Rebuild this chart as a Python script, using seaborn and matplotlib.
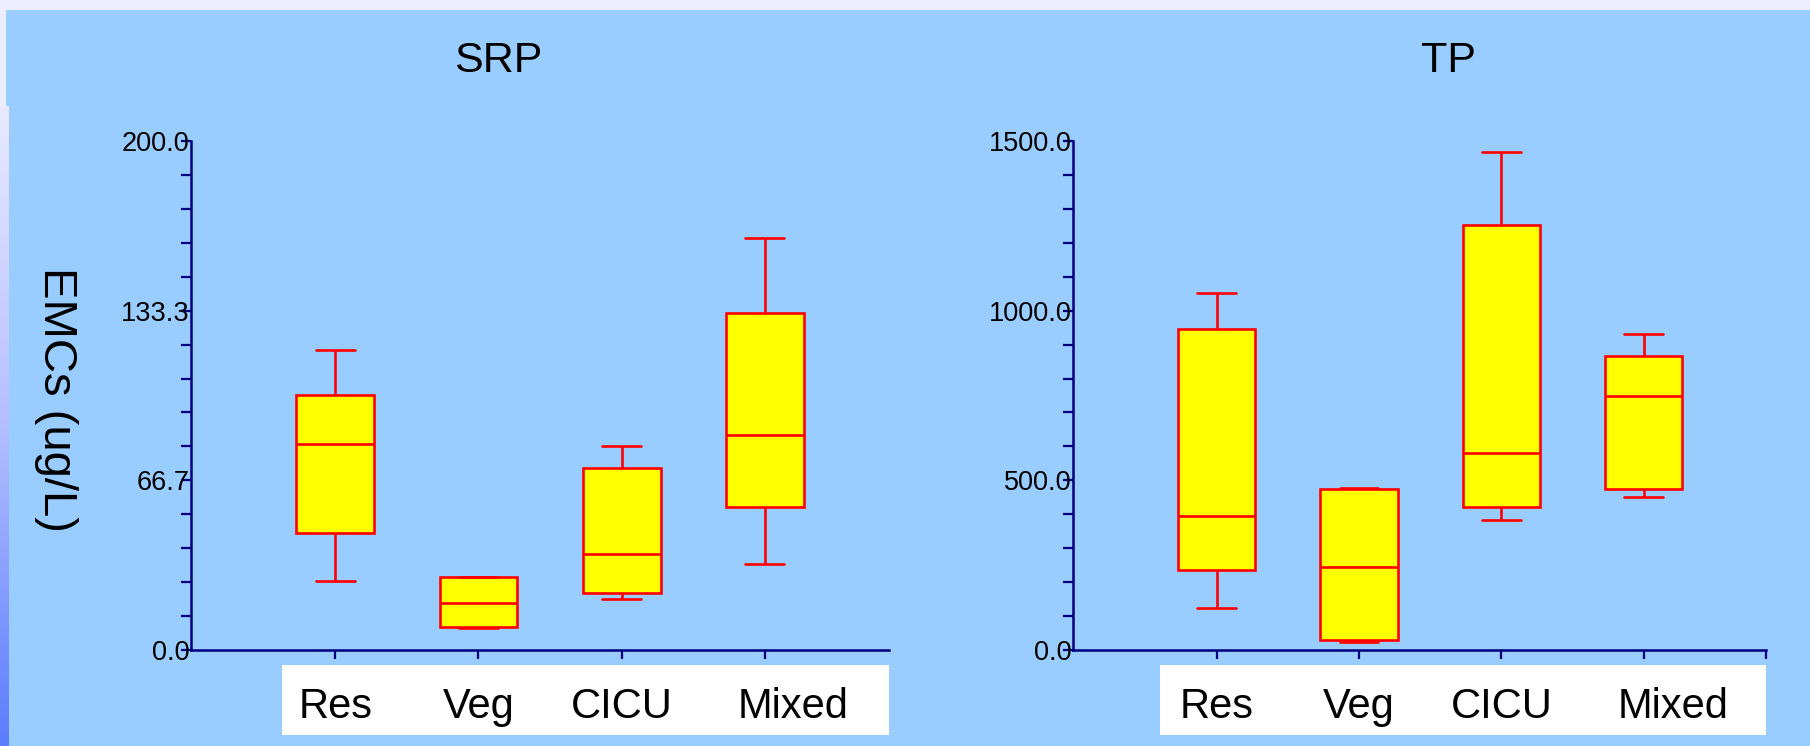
import numpy as np
import pandas as pd
import matplotlib
matplotlib.use("Agg")
import matplotlib.pyplot as plt
from matplotlib.patches import Rectangle
from matplotlib.colors import LinearSegmentedColormap
from matplotlib.transforms import ScaledTranslation
import seaborn as sns

# ---------------- data ----------------
categories = ["Res", "Veg", "CICU", "Mixed"]
# five-number summaries: [whisker low, Q1, median, Q3, whisker high]
srp_res = [27.0, 46.1, 80.9, 100.2, 117.8]
srp_veg = [8.8, 9.2, 18.3, 28.6, 28.7]
srp_cicu = [20.0, 22.3, 37.7, 71.5, 80.0]
srp_mixed = [33.8, 56.3, 84.5, 132.3, 161.8]

tp_res = [124, 236, 395, 947, 1051]
tp_veg = [25, 28, 245, 474, 476]
tp_cicu = [383, 421, 580, 1253, 1468]
tp_mixed = [450, 474, 748, 866, 930]

srp_tick_labels = ["0.0", "66.7", "133.3", "200.0"]
tp_tick_labels = ["0.0", "500.0", "1000.0", "1500.0"]
srp_max = 200.0
tp_max = 1500.0
panel_titles = ["SRP", "TP"]
y_label = "EMCs (ug/L)"


def long_frame(groups):
    rows = []
    for cat, vals in zip(categories, groups):
        for v in vals:
            rows.append({"site": cat, "value": v})
    return pd.DataFrame(rows)


srp_df = long_frame([srp_res, srp_veg, srp_cicu, srp_mixed])
tp_df = long_frame([tp_res, tp_veg, tp_cicu, tp_mixed])

# ---------------- style ----------------
sns.set_style("white")
plt.rcParams["font.family"] = ["Liberation Sans", "DejaVu Sans"]

W, H = 1810, 746
fig = plt.figure(figsize=(W / 100, H / 100), dpi=100, facecolor="#ECEEFF")

# background decoration (pixel-space axes)
bg = fig.add_axes([0, 0, 1, 1])
bg.set_xlim(0, W)
bg.set_ylim(H, 0)
bg.axis("off")
grad_cmap = LinearSegmentedColormap.from_list("strip", ["#E8EAFF", "#B4BEFF", "#5A7CFF"])
grad = np.linspace(0, 1, 256).reshape(-1, 1)
bg.imshow(grad, extent=(0, 9, H, 106), aspect="auto", cmap=grad_cmap, zorder=1)
bg.add_patch(Rectangle((6, 10), W - 6, 96, color="#99CCFF", lw=0, zorder=2))
bg.add_patch(Rectangle((9, 106), W - 9, H - 106, color="#99CCFF", lw=0, zorder=2))
bg.add_patch(Rectangle((282, 665), 889 - 282, 70, color="white", lw=0, zorder=3))
bg.add_patch(Rectangle((1160, 665), 1766 - 1160, 70, color="white", lw=0, zorder=3))

navy = "#000080"


def style_axes(ax, df, ymax, labels, xright, end_tick):
    sns.boxplot(data=df, x="site", y="value", order=categories, ax=ax,
                whis=(0, 100), width=0.545, color="#FFFF00", saturation=1,
                linecolor="#FF0000", linewidth=1.9, showfliers=False)
    ax.set_facecolor("none")
    ax.set_xlim(-1.01, xright)
    ax.set_ylim(0, ymax)
    ax.set_xlabel("")
    ax.set_ylabel("")
    for s in ["top", "right"]:
        ax.spines[s].set_visible(False)
    for s in ["left", "bottom"]:
        ax.spines[s].set_color(navy)
        ax.spines[s].set_linewidth(1.8)
    ax.set_yticks(np.linspace(0, ymax, 4))
    ax.set_yticklabels(labels)
    ax.set_yticks(np.linspace(0, ymax, 16), minor=True)
    ax.tick_params(axis="y", which="both", left=True, direction="out",
                   length=7, width=1.6, color=navy, pad=-5.8,
                   labelsize=19.5, labelcolor="black")
    ax.set_xticks(range(len(categories)))
    ax.set_xticklabels(categories)
    if end_tick:
        ax.set_xticks([xright], minor=True)
    ax.tick_params(axis="x", which="both", bottom=True, direction="out",
                   length=6.5, width=1.6, color=navy, pad=20, labelsize=30,
                   labelcolor="black")
    ax.grid(False)
    # the last category label sits a little to the right in the original
    lab = ax.xaxis.get_major_ticks()[3].label1
    lab.set_transform(lab.get_transform() + ScaledTranslation(0.29, 0, fig.dpi_scale_trans))


ax1 = fig.add_axes([191 / W, 96 / H, (889 - 191) / W, 509 / H])
style_axes(ax1, srp_df, srp_max, srp_tick_labels, 3.87, False)
ax2 = fig.add_axes([1073 / W, 96 / H, (1766 - 1073) / W, 509 / H])
style_axes(ax2, tp_df, tp_max, tp_tick_labels, 3.86, True)

fig.text(498 / W, 1 - 72 / H, panel_titles[0], ha="center", va="baseline",
         fontsize=31, color="black")
fig.text(1448 / W, 1 - 72 / H, panel_titles[1], ha="center", va="baseline",
         fontsize=31, color="black")
fig.text(56 / W, 1 - 399 / H, y_label, ha="center", va="center",
         rotation=-90, fontsize=34, color="black")

fig.savefig("out.png", dpi=100, facecolor=fig.get_facecolor())
